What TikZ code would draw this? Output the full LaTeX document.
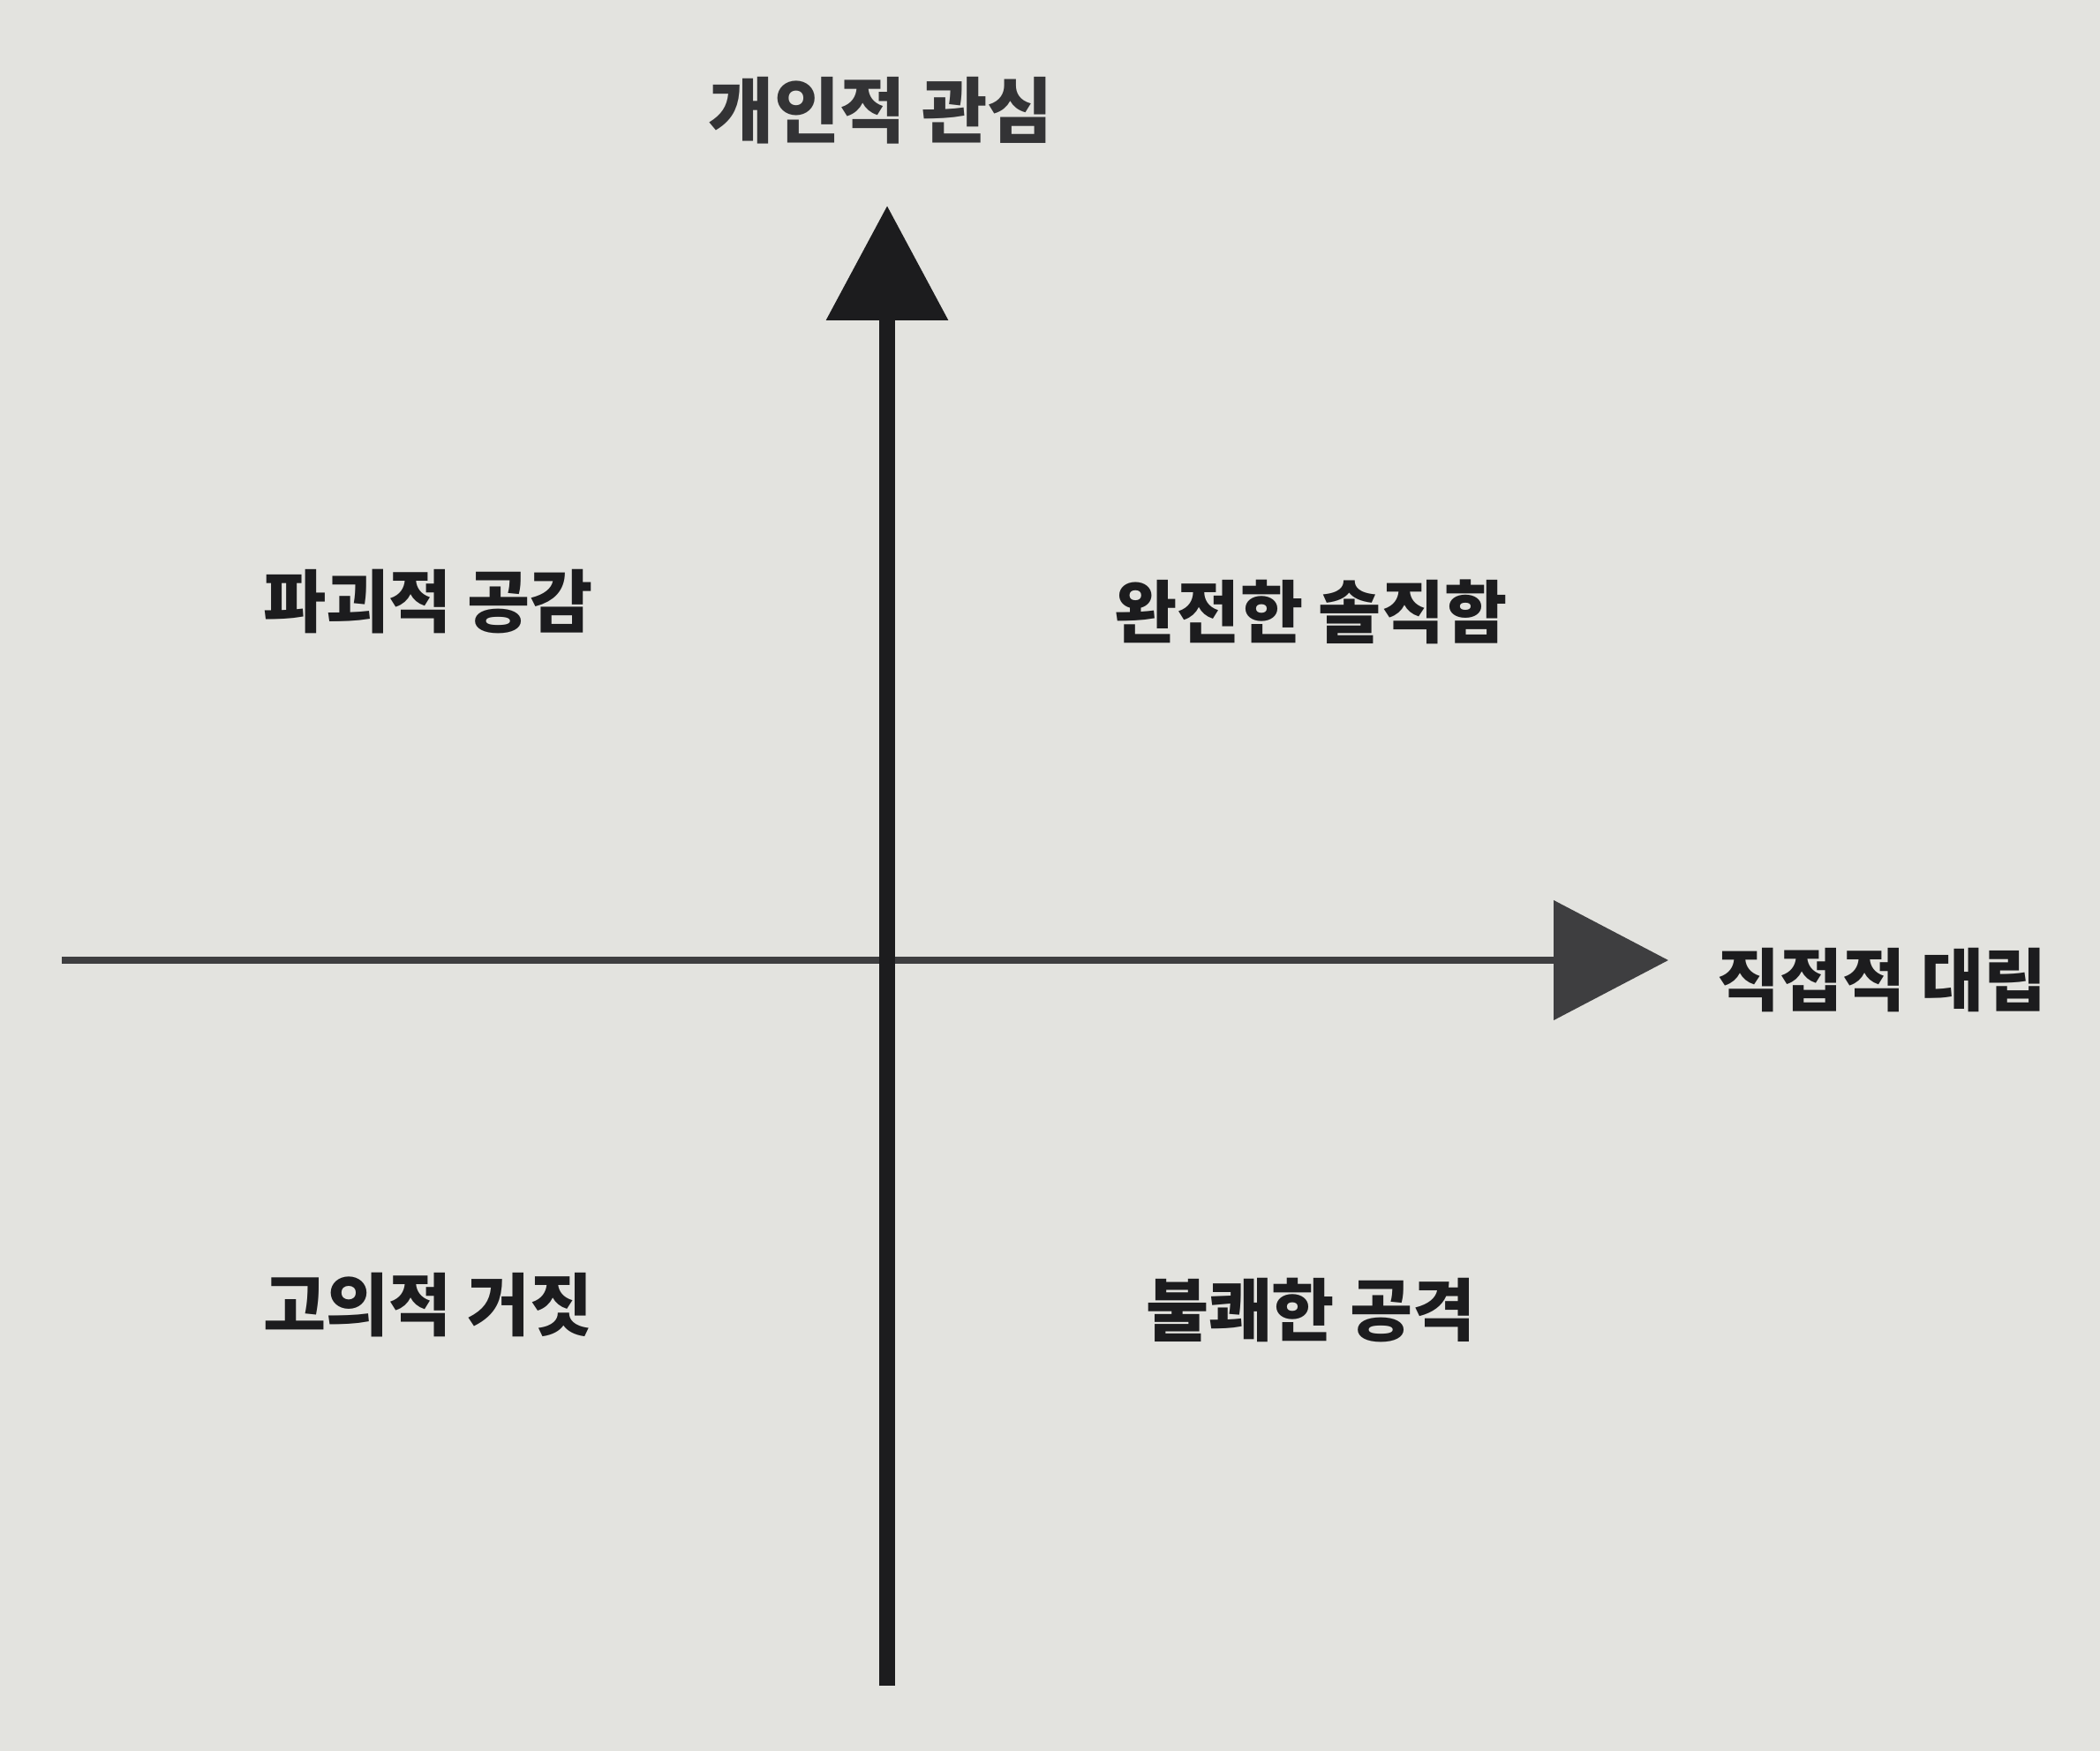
\documentclass[tikz,border=0pt]{standalone}
\usepackage{fontspec}
\usetikzlibrary{arrows.meta, positioning}
\newfontfamily\kr{Noto Sans CJK KR}
\definecolor{bgcol}{RGB}{227,227,223}
\definecolor{axiscol}{RGB}{28,28,30}

\begin{document}
\begin{tikzpicture}[x=1cm, y=1cm,
			axis/.style={-{Triangle[length=13mm, width=13.4mm]}, axiscol},
			quad/.style={font=\kr\bfseries\fontsize{22}{26}\selectfont, text=axiscol},
			title/.style={font=\kr\bfseries\fontsize{23}{27}\selectfont, text=axiscol!90, inner sep=0pt}]
			
			% Sfondo e dimensioni
			\fill[bgcol] (0,0) rectangle (23.79,-19.84);
			\useasboundingbox (0,0) rectangle (23.79,-19.84);
			
			% Estremi degli assi
			\coordinate (vbot) at (10.05,-19.10);
			\coordinate (vtop) at (10.05,-2.33);
			\coordinate (hleft) at (0.70,-10.88);
			\coordinate (hright) at (18.90,-10.88);
			
			% --- Assi ---
			\draw[axis, line width=2.4pt, axiscol!85] (hleft) -- (hright);
			\draw[axis, line width=5pt] (vbot) -- (vtop);
			
			% --- Etichette degli assi ---
			\node[title] (care) at (9.98,-1.25) {개인적 관심};
			\node[quad, inner sep=0pt] (challenge) at (21.32,-11.11) {직접적 대립};
			
			% --- Quadranti ---
			\node[quad] (ruinous) at (4.85,-6.82) {파괴적 공감};
			\node[quad] (radical) at (14.85,-6.93) {완전한 솔직함};
			\node[quad] (manip) at (4.85,-14.79) {고의적 거짓};
			\node[quad] (obnox) at (14.85,-14.85) {불쾌한 공격};
		\end{tikzpicture}
\end{document}
